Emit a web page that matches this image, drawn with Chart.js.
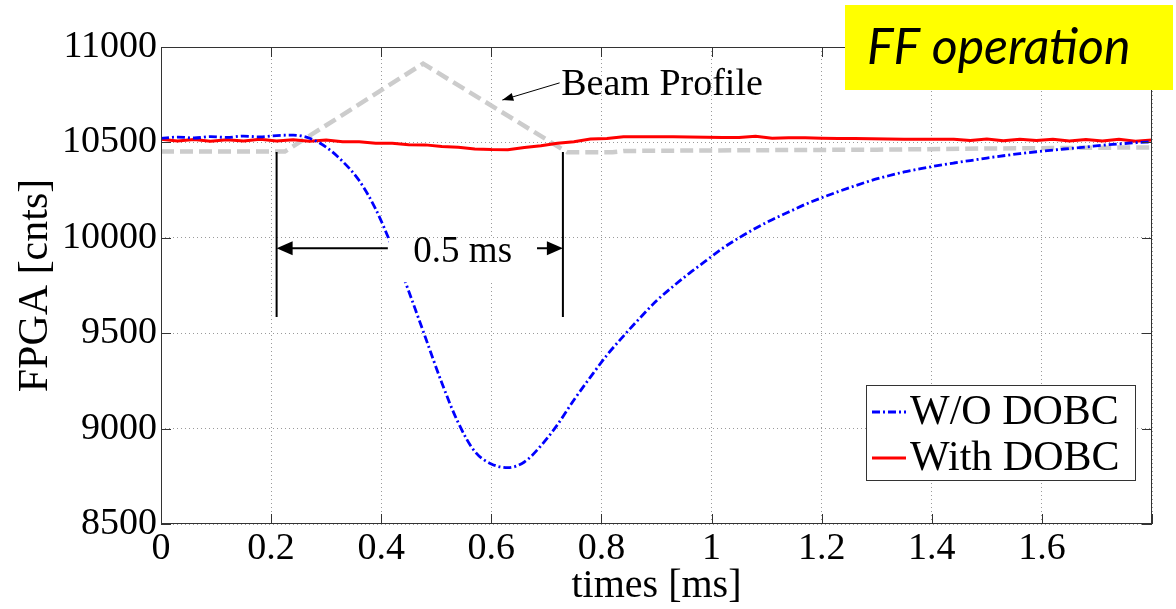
<!DOCTYPE html>
<html lang="en">
<head>
<meta charset="UTF-8">
<title>FF operation</title>
<script src="https://cdn.jsdelivr.net/npm/chart.js"></script>
<style>
  html, body { margin: 0; padding: 0; background: #fff; }
  #chart { display: block; }
</style>
</head>
<body>
<canvas id="chart" width="1176" height="609"></canvas>
<script>
  // time axis [ms], sampled every 0.03 ms
  const times = [0, 0.03, 0.06, 0.09, 0.12, 0.15, 0.18, 0.21, 0.24, 0.27,
    0.30, 0.33, 0.36, 0.39, 0.42, 0.45, 0.48, 0.51, 0.54, 0.57,
    0.60, 0.63, 0.66, 0.69, 0.72, 0.75, 0.78, 0.81, 0.84, 0.87,
    0.90, 0.93, 0.96, 0.99, 1.02, 1.05, 1.08, 1.11, 1.14, 1.17,
    1.20, 1.23, 1.26, 1.29, 1.32, 1.35, 1.38, 1.41, 1.44, 1.47,
    1.50, 1.53, 1.56, 1.59, 1.62, 1.65, 1.68, 1.71, 1.74, 1.77, 1.80];

  const woDobc = [10521, 10528, 10523, 10530, 10526, 10533, 10529, 10536, 10538, 10522,
    10475, 10400, 10300, 10150, 9950, 9720, 9480, 9240, 9030, 8880,
    8815, 8795, 8825, 8910, 9020, 9150, 9270, 9385, 9485, 9580,
    9670, 9745, 9815, 9880, 9945, 10000, 10050, 10095, 10135, 10175,
    10210, 10242, 10272, 10300, 10324, 10345, 10362, 10378, 10392, 10405,
    10418, 10430, 10441, 10451, 10460, 10468, 10476, 10485, 10492, 10498, 10503];

  const withDobc = [10516, 10508, 10515, 10506, 10514, 10507, 10516, 10508, 10514, 10506,
    10512, 10504, 10504, 10496, 10495, 10488, 10487, 10478, 10475, 10466,
    10463, 10462, 10473, 10482, 10496, 10503, 10518, 10520, 10529, 10530,
    10530, 10529, 10528, 10527, 10526, 10526, 10532, 10522, 10524, 10524,
    10522, 10521, 10520, 10519, 10518, 10517, 10516, 10516, 10517, 10510,
    10518, 10509, 10517, 10510, 10516, 10507, 10515, 10508, 10516, 10506, 10513];

  // beam profile (scaled, drawn as reference shape)
  const beamTimes = [0, 0.225, 0.476, 0.738, 0.82, 0.84, 1.0, 1.3, 1.5, 1.8];
  const beamProfile = [10452, 10452, 10913, 10448, 10448, 10455, 10458, 10462, 10468, 10474];

  const serif = '"Liberation Serif", "DejaVu Serif", serif';

  function pts(xs, ys) {
    return xs.map((t, i) => ({ x: t, y: ys[i] }));
  }

  function arrowHead(ctx, x, y, dir, len, half) {
    ctx.beginPath();
    ctx.moveTo(x, y);
    ctx.lineTo(x - dir * len, y - half);
    ctx.lineTo(x - dir * len, y + half);
    ctx.closePath();
    ctx.fill();
  }

  const overlay = {
    id: 'overlay',
    afterDatasetsDraw(chart) {
      const { ctx, chartArea: a, scales: { x, y } } = chart;
      ctx.save();

      // 0.5 ms marker: white label box hides the curve behind it
      const x1 = x.getPixelForValue(0.21), x2 = x.getPixelForValue(0.73);
      const lx = x.getPixelForValue(0.412), rx = x.getPixelForValue(0.683);
      const ay = y.getPixelForValue(9945);
      ctx.fillStyle = '#fff';
      ctx.fillRect(lx + 1, ay - 10, rx - lx - 2, 44);

      ctx.strokeStyle = '#000';
      ctx.fillStyle = '#000';
      ctx.lineWidth = 2;
      ctx.beginPath();
      ctx.moveTo(x1, y.getPixelForValue(10450));
      ctx.lineTo(x1, y.getPixelForValue(9585));
      ctx.moveTo(x2, y.getPixelForValue(10450));
      ctx.lineTo(x2, y.getPixelForValue(9585));
      ctx.moveTo(x1 + 10, ay);
      ctx.lineTo(lx, ay);
      ctx.moveTo(rx, ay);
      ctx.lineTo(x2 - 10, ay);
      ctx.stroke();
      arrowHead(ctx, x1, ay, -1, 16, 7);
      arrowHead(ctx, x2, ay, 1, 16, 7);

      ctx.font = '37px ' + serif;
      ctx.textAlign = 'center';
      ctx.textBaseline = 'alphabetic';
      ctx.fillText('0.5 ms', x.getPixelForValue(0.548), ay + 14);

      // beam profile label
      ctx.font = '38px ' + serif;
      ctx.textAlign = 'left';
      ctx.fillText('Beam Profile', x.getPixelForValue(0.727), y.getPixelForValue(10750));
      const bx0 = x.getPixelForValue(0.724), by0 = y.getPixelForValue(10812);
      const bx1 = x.getPixelForValue(0.62), by1 = y.getPixelForValue(10722);
      ctx.lineWidth = 1;
      ctx.beginPath();
      ctx.moveTo(bx0, by0);
      ctx.lineTo(bx1, by1);
      ctx.stroke();
      const ang = Math.atan2(by1 - by0, bx1 - bx0);
      ctx.save();
      ctx.translate(bx1, by1);
      ctx.rotate(ang);
      arrowHead(ctx, 0, 0, 1, 11, 4);
      ctx.restore();

      // box with inward ticks
      ctx.strokeStyle = '#333';
      ctx.lineWidth = 1;
      ctx.strokeRect(a.left + 0.5, a.top + 0.5, a.width - 1, a.height - 1);
      ctx.beginPath();
      x.ticks.forEach(t => {
        const px = Math.round(x.getPixelForValue(t.value)) + 0.5;
        ctx.moveTo(px, a.bottom); ctx.lineTo(px, a.bottom - 10);
        ctx.moveTo(px, a.top); ctx.lineTo(px, a.top + 10);
      });
      y.ticks.forEach(t => {
        const py = Math.round(y.getPixelForValue(t.value)) + 0.5;
        ctx.moveTo(a.left, py); ctx.lineTo(a.left + 10, py);
        ctx.moveTo(a.right, py); ctx.lineTo(a.right - 10, py);
      });
      ctx.stroke();

      // legend
      const lgL = a.right - 286, lgT = a.bottom - 139, lgW = 269, lgH = 95;
      ctx.fillStyle = '#fff';
      ctx.fillRect(lgL, lgT, lgW, lgH);
      ctx.strokeRect(lgL + 0.5, lgT + 0.5, lgW, lgH);
      const rows = [
        { label: 'W/O DOBC', color: '#0000ff', dash: [8, 3, 2, 3], y: lgT + 27 },
        { label: 'With DOBC', color: '#ff0000', dash: [], y: lgT + 73 }
      ];
      rows.forEach(r => {
        ctx.strokeStyle = r.color;
        ctx.lineWidth = 3;
        ctx.setLineDash(r.dash);
        ctx.beginPath();
        ctx.moveTo(lgL + 6, r.y);
        ctx.lineTo(lgL + 40, r.y);
        ctx.stroke();
        ctx.setLineDash([]);
        ctx.fillStyle = '#000';
        ctx.font = '42px ' + serif;
        ctx.textBaseline = 'middle';
        ctx.fillText(r.label, lgL + 44, r.y + 1, 218);
      });

      // FF operation tag
      ctx.fillStyle = '#ffff00';
      ctx.fillRect(845, 5, 328, 85);
      ctx.fillStyle = '#000';
      ctx.font = 'italic 50px Lato, "Open Sans", sans-serif';
      ctx.textBaseline = 'alphabetic';
      ctx.fillText('FF operation', 867, 64, 270);

      ctx.restore();
    }
  };

  new Chart(document.getElementById('chart'), {
    type: 'line',
    data: {
      datasets: [
        {
          label: 'W/O DOBC',
          data: pts(times, woDobc),
          borderColor: '#0000ff',
          borderWidth: 2.8,
          borderDash: [8, 3, 2, 3],
          cubicInterpolationMode: 'monotone',
          pointRadius: 0
        },
        {
          label: 'With DOBC',
          data: pts(times, withDobc),
          borderColor: '#ff0000',
          borderWidth: 3,
          tension: 0,
          pointRadius: 0
        },
        {
          label: 'Beam Profile',
          data: pts(beamTimes, beamProfile),
          borderColor: '#cccccc',
          borderWidth: 4.5,
          borderDash: [13, 6],
          tension: 0,
          pointRadius: 0
        }
      ]
    },
    options: {
      responsive: false,
      animation: false,
      events: [],
      layout: { padding: { top: 47, right: 24, left: 0, bottom: 0 } },
      plugins: { legend: { display: false }, tooltip: { enabled: false } },
      scales: {
        x: {
          type: 'linear',
          min: 0,
          max: 1.8,
          afterFit: s => { s.height = 85; },
          grid: { color: '#9a9a9a', lineWidth: 1, drawTicks: false },
          border: { display: false, dash: [1, 3] },
          ticks: {
            stepSize: 0.2,
            padding: 2,
            color: '#000',
            font: { family: serif, size: 38 },
            callback: v => v > 1.75 ? '' : String(Math.round(v * 10) / 10)
          },
          title: {
            display: true,
            text: 'times [ms]',
            color: '#000',
            font: { family: serif, size: 40, lineHeight: 1 },
            padding: { top: 0, bottom: 3 }
          }
        },
        y: {
          min: 8500,
          max: 11000,
          afterFit: s => { s.width = 161; },
          grid: { color: '#9a9a9a', lineWidth: 1, drawTicks: false },
          border: { display: false, dash: [1, 3] },
          ticks: {
            stepSize: 500,
            padding: 4,
            color: '#000',
            font: { family: serif, size: 38 },
            callback: v => String(v)
          },
          title: {
            display: true,
            text: 'FPGA [cnts]',
            color: '#000',
            font: { family: serif, size: 42, lineHeight: 1 },
            padding: { top: 15, bottom: 0 }
          }
        }
      }
    },
    plugins: [overlay]
  });
</script>
</body>
</html>
